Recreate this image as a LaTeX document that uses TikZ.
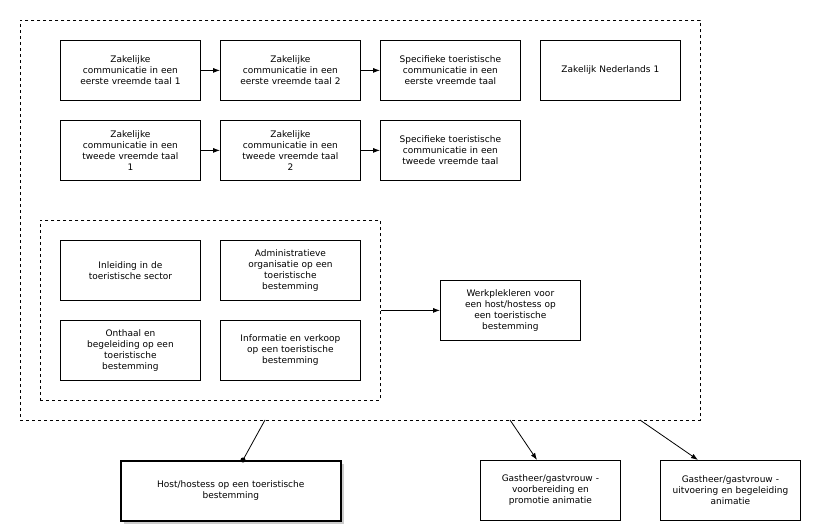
\documentclass[tikz,border=0pt]{standalone}
\usepackage{fontspec}
\setmainfont{DejaVu Sans}
\usetikzlibrary{positioning,shadows,arrows.meta}
\tikzset{
  vak/.style={draw, rectangle, anchor=north west, minimum width=140pt, minimum height=60pt,
    text width=138pt, align=center, font=\fontsize{9}{11}\selectfont, inner sep=1pt},
  groep/.style={draw, dashed, rectangle, anchor=north west}
}
\begin{document}
\begin{tikzpicture}[x=1pt, y=-1pt, >={Latex[length=7pt,width=5pt]}, line width=0.8pt]
  \useasboundingbox (0,0) rectangle (825,529);

  \node [groep, minimum width=680pt, minimum height=400pt] (alles) at (20,20) {};
  \node [groep, minimum width=340pt, minimum height=180pt] (kern) at (40,220) {};

  \node [vak] (zc1) at (60,40) {Zakelijke\\ communicatie in een\\ eerste vreemde taal 1};
  \node [vak] (zc2) at (220,40) {Zakelijke\\ communicatie in een\\ eerste vreemde taal 2};
  \node [vak] (stc1) at (380,40) {Specifieke toeristische\\ communicatie in een\\ eerste vreemde taal};
  \node [vak] (zn1) at (540,40) {Zakelijk Nederlands 1};

  \node [vak] (zt1) at (60,120) {Zakelijke\\ communicatie in een\\ tweede vreemde taal\\ 1};
  \node [vak] (zt2) at (220,120) {Zakelijke\\ communicatie in een\\ tweede vreemde taal\\ 2};
  \node [vak] (stc2) at (380,120) {Specifieke toeristische\\ communicatie in een\\ tweede vreemde taal};

  \node [vak] (inl) at (60,240) {Inleiding in de\\ toeristische sector};
  \node [vak] (adm) at (220,240) {Administratieve\\ organisatie op een\\ toeristische\\ bestemming};
  \node [vak] (ont) at (60,320) {Onthaal en\\ begeleiding op een\\ toeristische\\ bestemming};
  \node [vak] (inf) at (220,320) {Informatie en verkoop\\ op een toeristische\\ bestemming};

  \node [vak] (wpl) at (440,280) {Werkplekleren voor\\ een host/hostess op\\ een toeristische\\ bestemming};

  \node [vak, minimum width=220pt, text width=218pt, line width=1.6pt, drop shadow={opacity=0.4}, fill=white] (host) at (120,460) {Host/hostess op een toeristische\\ bestemming};
  \node [vak] (gv1) at (480,460) {Gastheer/gastvrouw -\\ voorbereiding en\\ promotie animatie};
  \node [vak] (gv2) at (660,460) {Gastheer/gastvrouw -\\ uitvoering en begeleiding\\ animatie};

  \coordinate (uit1) at (265,420);
  \coordinate (uit2) at (510,420);
  \coordinate (uit3) at (640,420);

  \draw [->] (zc1) -- (zc2);
  \draw [->] (zc2) -- (stc1);
  \draw [->] (zt1) -- (zt2);
  \draw [->] (zt2) -- (stc2);
  \draw [->] (kern.east |- wpl) -- (wpl);
  \draw (uit1) -- (243,460) node [circle, fill, inner sep=1.8pt] {};
  \draw [->] (uit2) -- (gv1.north west -| 537,0);
  \draw [->] (uit3) -- (gv2.north west -| 698,0);
\end{tikzpicture}
\end{document}
